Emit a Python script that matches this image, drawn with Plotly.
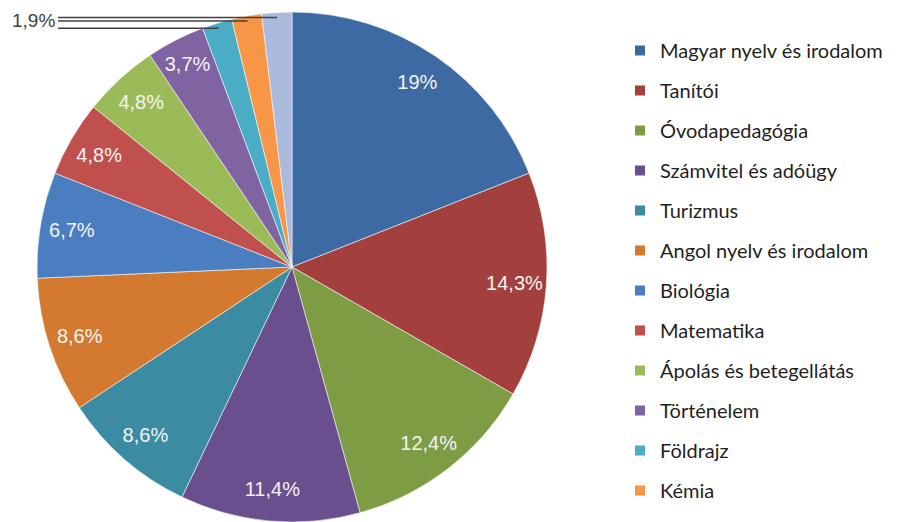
import math
import plotly.graph_objects as go

# ---- data ----
categories = [
    "Magyar nyelv és irodalom", "Tanítói", "Óvodapedagógia", "Számvitel és adóügy",
    "Turizmus", "Angol nyelv és irodalom", "Biológia", "Matematika",
    "Ápolás és betegellátás", "Történelem", "Földrajz", "Kémia", "Egyéb",
]
values = [19.0, 14.3, 12.4, 11.4, 8.6, 8.6, 6.7, 4.8, 4.8, 3.7, 1.9, 1.9, 1.9]
colors = [
    "#3D6AA3", "#A3403D", "#7D9C43", "#6A4F8E", "#3B8BA3", "#D37A30",
    "#4A7EC1", "#C0504D", "#9BBB59", "#8064A2", "#4BACC6", "#F79646", "#A9BADD",
]
legend_count = 12          # legend shows the first 12 categories
small_threshold = 3.0      # slices below this get an outside leader-line label


def fmt(v):
    return f"{v:g}".replace(".", ",") + "%"


inside_text = [fmt(v) if v >= small_threshold else "" for v in values]

W, H = 900, 522
OX, OY = 8, 8            # page (body) offset of the plot div in the screenshot


def px2x(x):
    return (x - OX) / W


def px2y(y):
    return 1 - (y - OY) / H


cx_px, cy_px, r_px = 292, 267, 255        # on-screen pie geometry
dom_x = [px2x(cx_px - r_px), px2x(cx_px + r_px)]
dom_y = [px2y(cy_px + r_px), px2y(cy_px - r_px)]

fig = go.Figure()

fig.add_trace(go.Pie(
    labels=categories, values=values, sort=False, direction="clockwise", rotation=0,
    marker=dict(colors=colors, line=dict(color="rgba(255,255,255,0.55)", width=1)),
    textinfo="none", hoverinfo="label+percent", showlegend=False,
    domain=dict(x=dom_x, y=dom_y),
))

# transparent ring overlay used only to place the percentage labels near the rim
fig.add_trace(go.Pie(
    labels=categories, values=values, sort=False, direction="clockwise", rotation=0,
    hole=0.75,
    marker=dict(colors=["rgba(0,0,0,0)"] * len(values), line=dict(width=0)),
    text=inside_text, textinfo="text", textposition="inside",
    insidetextorientation="horizontal",
    textfont=dict(family="Liberation Sans, Arial, sans-serif", size=20, color="#F4F4F4"),
    hoverinfo="skip", showlegend=False,
    domain=dict(x=dom_x, y=dom_y),
))

# legend entries
for i in range(legend_count):
    fig.add_trace(go.Scatter(
        x=[None], y=[None], mode="markers", name=categories[i],
        legendgroup=f"g{i}",
        marker=dict(symbol="square", size=10, color=colors[i]),
        hoverinfo="skip",
    ))

# leader lines for the small slices
total = sum(values)
cum = 0.0
shapes = []
for v in values:
    if v < small_threshold:
        mid = (cum + v / 2) / total * 2 * math.pi
        ex = cx_px + 0.98 * r_px * math.sin(mid)
        ey = cy_px - 0.98 * r_px * math.cos(mid)
        shapes.append(dict(
            type="line", xref="paper", yref="paper",
            x0=px2x(58), x1=px2x(ex), y0=px2y(ey), y1=px2y(ey),
            line=dict(color="#404040", width=1.5),
        ))
    cum += v

fig.add_annotation(
    text=fmt(values[-1]), xref="paper", yref="paper",
    x=px2x(57), y=px2y(21), xanchor="right", yanchor="middle", showarrow=False,
    font=dict(family="Liberation Sans, Arial, sans-serif", size=19, color="#404040"),
)

fig.update_layout(
    width=W, height=H,
    margin=dict(l=0, r=0, t=0, b=0, autoexpand=False),
    paper_bgcolor="white", plot_bgcolor="white",
    shapes=shapes,
    xaxis=dict(visible=False), yaxis=dict(visible=False),
    showlegend=True,
    legend=dict(
        x=px2x(620), y=px2y(31), xanchor="left", yanchor="top",
        font=dict(family="Lato, sans-serif", size=20, color="#1F1F1F"),
        tracegroupgap=11, traceorder="grouped",
        bgcolor="rgba(0,0,0,0)",
    ),
)

fig.write_html("out.html")
